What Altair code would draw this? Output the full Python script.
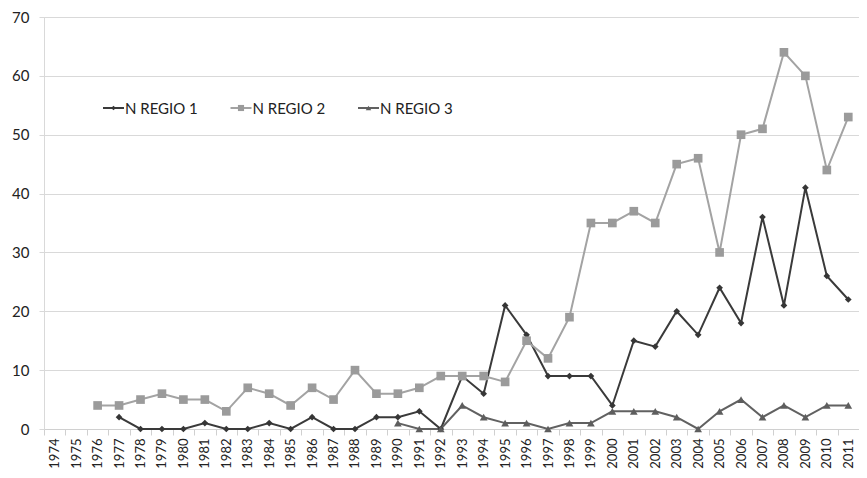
import altair as alt
import pandas as pd

years = list(range(1974, 2012))
series_names = ["N REGIO 1", "N REGIO 2", "N REGIO 3"]

regio1 = [None, None, None, 2, 0, 0, 0, 1, 0, 0, 1, 0, 2, 0, 0, 2, 2, 3, 0, 9, 6,
          21, 16, 9, 9, 9, 4, 15, 14, 20, 16, 24, 18, 36, 21, 41, 26, 22]
regio2 = [None, None, 4, 4, 5, 6, 5, 5, 3, 7, 6, 4, 7, 5, 10, 6, 6, 7, 9, 9, 9,
          8, 15, 12, 19, 35, 35, 37, 35, 45, 46, 30, 50, 51, 64, 60, 44, 53]
regio3 = [None] * 16 + [1, 0, 0, 4, 2, 1, 1, 0, 1, 1, 3, 3, 3, 2, 0, 3, 5, 2, 4, 2, 4, 4]

y_ticks = [0, 10, 20, 30, 40, 50, 60, 70]

colors = ["#363636", "#9b9b9b", "#5e5e5e"]
line_colors = ["#3a3a3a", "#a3a3a3", "#616161"]
shapes = ["diamond", "square", "triangle-up"]
sizes = [45, 75, 60]

rows = []
for name, vals in zip(series_names, [regio1, regio2, regio3]):
    for yr, v in zip(years, vals):
        if v is not None:
            rows.append({"year": str(yr), "value": v, "series": name})
df = pd.DataFrame(rows)

FONT = "Lato"
x_enc = alt.X("year:O", sort=[str(y) for y in years],
              scale=alt.Scale(type="band", domain=[str(y) for y in years],
                              paddingInner=0, paddingOuter=0),
              axis=alt.Axis(title=None, labelAngle=270, labelFontSize=13, labelFont=FONT,
                            labelColor="#222222", tickBand="extent", tickSize=6,
                            tickColor="#d0d0d0", domainColor="#d0d0d0", grid=False,
                            labelPadding=3))
y_enc = alt.Y("value:Q", scale=alt.Scale(domain=[0, 70], nice=False, zero=True),
              axis=alt.Axis(title=None, values=y_ticks, labelFontSize=15, labelFont=FONT,
                            labelColor="#222222", grid=True, gridColor="#d9d9d9",
                            domainColor="#d9d9d9", tickColor="#d9d9d9", tickSize=5,
                            labelPadding=10))

line_layers = []
point_layers = []
for i, name in enumerate(series_names):
    sub = df[df["series"] == name]
    line_layers.append(
        alt.Chart(sub).mark_line(strokeWidth=2, color=line_colors[i]).encode(x=x_enc, y=y_enc)
    )
    point_layers.append(
        alt.Chart(sub).mark_point(filled=True, opacity=1, shape=shapes[i], size=sizes[i],
                                  color=colors[i]).encode(x=x_enc, y=y_enc)
    )

legend_layers = []
leg_y = 91
for i, name in enumerate(series_names):
    x0 = 59 + i * 127.5
    ldf = pd.DataFrame({"label": [name]})
    legend_layers.append(alt.Chart(ldf).mark_rule(strokeWidth=2, color=line_colors[i]).encode(
        x=alt.value(x0), x2=alt.value(x0 + 21), y=alt.value(leg_y)))
    legend_layers.append(alt.Chart(ldf).mark_point(filled=True, opacity=1, shape=shapes[i],
                                                   size=sizes[i] * 0.5, color=colors[i]).encode(
        x=alt.value(x0 + 10.5), y=alt.value(leg_y)))
    legend_layers.append(alt.Chart(ldf).mark_text(align="left", baseline="middle", font=FONT,
                                                  fontSize=15, color="#222222").encode(
        x=alt.value(x0 + 22), y=alt.value(leg_y + 1), text="label:N"))

chart = alt.layer(*line_layers, *point_layers, *legend_layers).properties(
    width=815, height=412,
    padding={"left": 36, "top": 9, "right": 0, "bottom": 41},
    autosize=alt.AutoSizeParams(type="none"),
).configure_view(stroke=None).configure(background="white")

chart.save("out.html", embed_options={"renderer": "svg", "actions": False})
